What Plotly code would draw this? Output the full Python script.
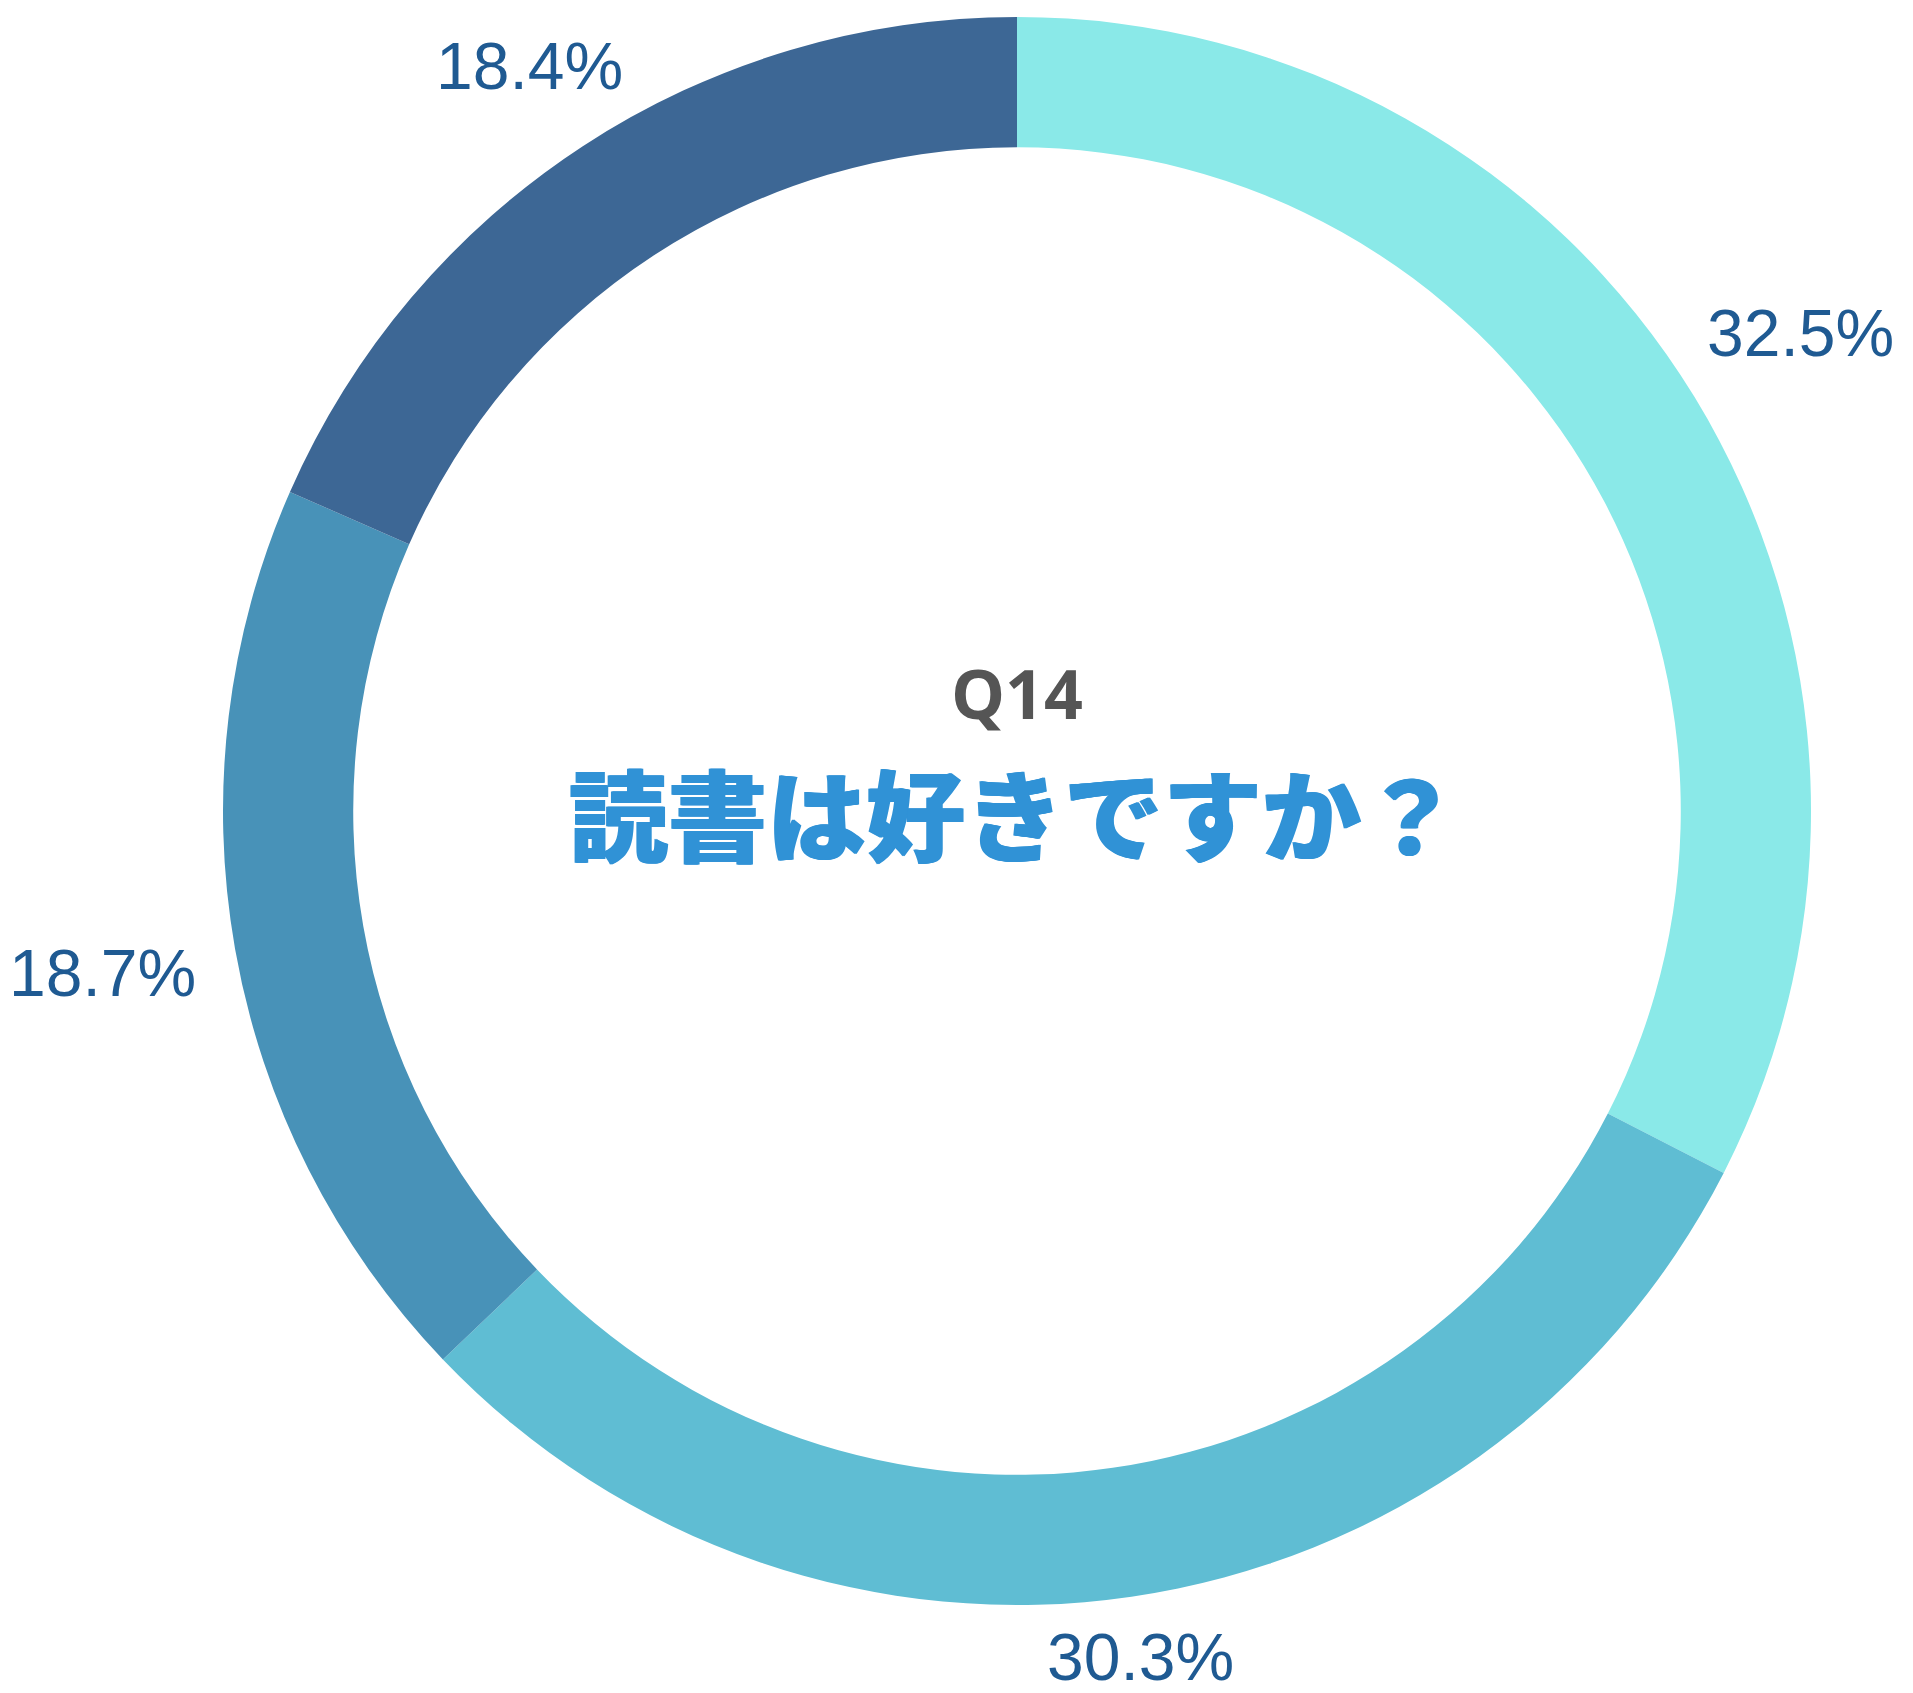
import math
import plotly.graph_objects as go

categories = ["好き", "どちらかといえば好き", "どちらかといえば嫌い", "嫌い"]
values = [32.5, 30.3, 18.7, 18.4]
colors = ["#8AE9E8", "#5FBDD3", "#4892B8", "#3D6795"]

W, H = 1913, 1693
cx, cy, r = 1017, 811, 794
LABEL_SIZE = 66

fig = go.Figure(go.Pie(
    labels=categories,
    values=values,
    sort=False,
    direction="clockwise",
    rotation=0,
    hole=0.836,
    marker=dict(colors=colors, line=dict(width=0)),
    textinfo="none",
    showlegend=False,
    hoverinfo="label+percent",
    domain=dict(x=[(cx - r) / W, (cx + r) / W], y=[(H - cy - r) / H, (H - cy + r) / H]),
))

# outside value labels placed at each slice's mid-angle, just beyond the ring
total = sum(values)
cum = 0.0
pad = 39
half_w, half_h = 96, 7
for v in values:
    mid = (cum + v / 2) / total * 2 * math.pi
    cum += v
    s, c = math.sin(mid), math.cos(mid)
    d = r + pad + abs(s) * half_w + abs(c) * half_h
    px = cx + d * s
    py = cy - d * c + 1
    fig.add_annotation(
        x=px / W, y=1 - py / H, xref="paper", yref="paper",
        text=f"{v:.1f}%", showarrow=False,
        font=dict(family="Liberation Sans, Arial, sans-serif", size=LABEL_SIZE, color="#1F5A92"),
        xanchor="center", yanchor="middle",
    )

fig.add_annotation(
    x=1017 / W, y=1 - 692 / H, xref="paper", yref="paper",
    text="<b>Q14</b>", showarrow=False,
    font=dict(family="Open Sans", size=68, color="#555555"),
    xanchor="center", yanchor="middle",
)
blue = "#3092D6"
fig.add_annotation(
    x=1015 / W, y=1 - 811 / H, xref="paper", yref="paper",
    text="読書は好きですか？", showarrow=False,
    font=dict(
        family="Noto Sans CJK JP", size=99, color=blue, weight=900,
        shadow=f"1px 0 0 {blue}, -1px 0 0 {blue}",
    ),
    xanchor="center", yanchor="middle",
)

fig.update_layout(
    width=W, height=H,
    margin=dict(l=0, r=0, t=0, b=0),
    paper_bgcolor="white", plot_bgcolor="white",
)

fig.write_html(
    "out.html",
    config={"displayModeBar": False},
    post_script="document.body.style.margin='0';document.body.style.overflow='hidden';",
)
